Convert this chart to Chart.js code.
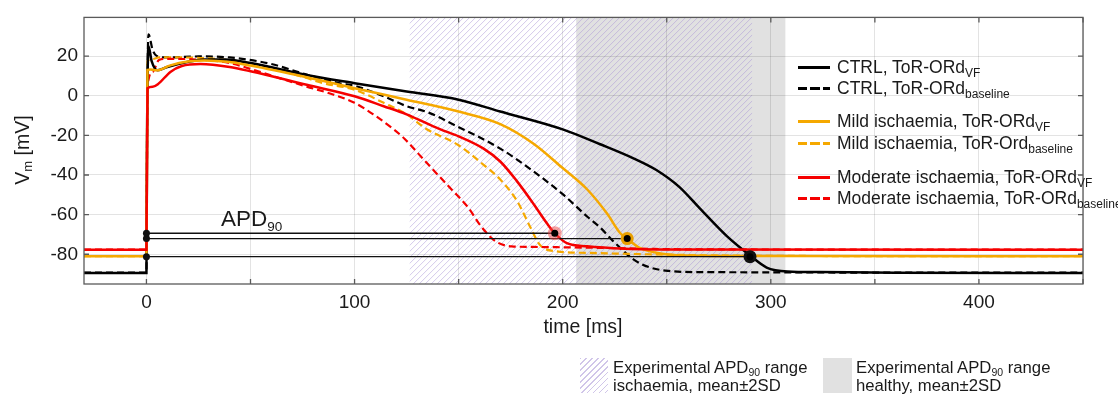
<!DOCTYPE html>
<html>
<head>
<meta charset="utf-8">
<script src="https://cdn.jsdelivr.net/npm/chart.js@4.4.1/dist/chart.umd.min.js"></script>
<style>
body{margin:0;background:#fff;font-family:"Liberation Sans",Arial,sans-serif;color:#1a1a1a}
#wrap{position:relative;width:1118px;height:399px}
#wrap canvas{position:absolute;left:0;top:0}
.txt{position:absolute;white-space:nowrap}
.row{position:absolute;left:798px;height:20px;display:flex;align-items:center;font-size:17.5px;white-space:nowrap}
.smp{display:inline-block;width:32px;height:3px;margin-right:7px;flex:none}
.row sub{font-size:12px;vertical-align:-4px;line-height:0}
.box{position:absolute;top:358px;width:28px;height:35px}
.leg2{position:absolute;top:359px;font-size:16.7px;line-height:18px;white-space:nowrap}
.leg2 sub{font-size:10.5px;vertical-align:-3px;line-height:0}
</style>
</head>
<body>
<div id="wrap">
<canvas id="chart" width="1118" height="399"></canvas>

<!-- legend, top right -->
<div class="row" style="top:57px"><span class="smp" style="background:#000"></span><span>CTRL, ToR-ORd<sub>VF</sub></span></div>
<div class="row" style="top:78px"><span class="smp" style="background:repeating-linear-gradient(90deg,#000 0 9.5px,transparent 9.5px 12.5px)"></span><span>CTRL, ToR-ORd<sub>baseline</sub></span></div>
<div class="row" style="top:111px"><span class="smp" style="background:#F5A800"></span><span>Mild ischaemia, ToR-ORd<sub>VF</sub></span></div>
<div class="row" style="top:133px"><span class="smp" style="background:repeating-linear-gradient(90deg,#F5A800 0 9.5px,transparent 9.5px 12.5px)"></span><span>Mild ischaemia, ToR-Ord<sub>baseline</sub></span></div>
<div class="row" style="top:167px"><span class="smp" style="background:#F50000"></span><span>Moderate ischaemia, ToR-ORd<sub>VF</sub></span></div>
<div class="row" style="top:188px"><span class="smp" style="background:repeating-linear-gradient(90deg,#F50000 0 9.5px,transparent 9.5px 12.5px)"></span><span>Moderate ischaemia, ToR-ORd<sub>baseline</sub></span></div>

<!-- axis titles and APD label -->
<div class="txt" style="left:483px;width:200px;top:314px;text-align:center;font-size:19.5px;line-height:24px">time [ms]</div>
<div class="txt" style="left:-38px;top:138px;width:120px;text-align:center;font-size:19.5px;line-height:24px;transform:rotate(-90deg)">V<sub style="font-size:13px;vertical-align:-3px;line-height:0">m</sub> [mV]</div>
<div class="txt" style="left:221px;top:206px;font-size:22.5px;line-height:26px">APD<sub style="font-size:13.5px;vertical-align:-5px;line-height:0">90</sub></div>

<!-- legend, bottom -->
<div class="box" style="left:580px;background:repeating-linear-gradient(135deg,rgba(170,150,215,.55) 0 1px,transparent 1px 4.2px)"></div>
<div class="leg2" style="left:613px">Experimental APD<sub>90</sub> range<br>ischaemia, mean±2SD</div>
<div class="box" style="left:823px;width:29px;background:#e1e1e1"></div>
<div class="leg2" style="left:856px">Experimental APD<sub>90</sub> range<br>healthy, mean±2SD</div>
</div>

<script>
// action potential traces (time in ms, Vm in mV)
const ctrlVfT = [-30, 0, 0.3, 1, 2.5, 5.4, 10, 19.5, 28, 38, 50, 77, 100, 125, 150, 170, 200, 218, 234, 245, 256, 266, 279, 290, 298, 308, 323, 360, 450];
const ctrlVfV = [-89.5, -89.5, -20, 25, 17.5, 12.8, 14.5, 17, 18.3, 18.2, 16.5, 10.4, 6.3, 2.1, -2, -8, -17, -24.5, -31.6, -37.5, -46, -57, -71, -80.6, -86.7, -88.7, -89, -89.3, -89.5];

const ctrlBaseT = [-30, 0, 0.3, 1, 3, 5, 10, 25, 40, 60, 77, 93, 100, 114, 125, 135, 147, 170, 186, 200, 212, 218, 224.5, 234, 242, 251, 266, 450];
const ctrlBaseV = [-89.3, -89.3, -20, 31, 23, 20, 19.3, 19.8, 19.3, 16, 10.6, 6.3, 5, -0.3, -5.3, -8.3, -14.3, -26.7, -38.2, -49.7, -61.2, -66.5, -73.6, -82.6, -86.7, -88.4, -89, -89.3];

const mildVfT = [-30, 0, 0.5, 2, 5, 11.5, 20, 28, 40, 50, 77, 100, 125, 150, 170, 186, 200, 211.7, 221.4, 227.7, 231, 237, 247, 258, 300, 450];
const mildVfV = [-81, -81, 13, 13.2, 12.8, 15.3, 17.2, 17.8, 17, 15.2, 9.3, 3.8, -2, -8, -14.3, -24.2, -36.5, -47.2, -59.6, -69.4, -72.1, -76.8, -79.6, -80.6, -80.9, -81];

const mildBaseT = [-30, 0, 0.5, 3, 6, 15, 30, 50, 75, 85, 100, 114, 125, 134.7, 150, 162, 170, 178, 184.4, 189, 197, 212, 240, 300, 450];
const mildBaseV = [-81, -81, 17.5, 18.5, 19.3, 19.3, 18.8, 16.3, 9.5, 6.3, 3, -3.6, -9.4, -16.9, -25, -34.9, -42.3, -53, -66.2, -75.2, -78.5, -79.3, -80, -80.8, -81];

const modVfT = [-30, 0, 0.5, 3, 5.5, 11.5, 17, 26, 40, 50, 77, 100, 114, 125, 141, 150, 162, 170, 178, 186, 192.5, 196.2, 202, 211.7, 230, 260, 450];
const modVfV = [-77.7, -77.7, 3.8, 4.5, 5.8, 12, 15, 16, 14.5, 12.3, 5.5, -0.3, -5.3, -9.4, -16.9, -20.5, -26.7, -33.2, -43.1, -54.6, -64.5, -69.4, -74.4, -76, -77.2, -77.6, -77.7];

const modBaseT = [-30, 0, 0.5, 3, 6, 10, 25, 40, 50, 65, 77, 90, 100, 109, 118.7, 124, 130.5, 138.5, 146.5, 154.5, 161, 168, 175.5, 186, 220, 260, 450];
const modBaseV = [-77.7, -77.7, 4.5, 12, 18, 18.6, 18.2, 16.5, 13.5, 8.5, 4.6, 0.5, -3.6, -9.4, -16.9, -21.7, -29.1, -38.2, -47.2, -56.3, -66.2, -73.6, -76, -76.3, -76.8, -77.5, -77.7];

// APD90 end points (red, orange, black)
const apdT = [196.2, 231, 290];
const apdV = [-69.4, -72.1, -81.2];

// experimental APD90 ranges (mean ± 2SD)
const ischRange = [126.5, 291];
const healthyRange = [206.5, 307];

const xTicks = [0, 50, 100, 150, 200, 250, 300, 350, 400, 450];
const yTicks = [-80, -60, -40, -20, 0, 20];

const BLACK = '#000000', ORANGE = '#F5A800', RED = '#F50000';

function pts(t, v) {
  return t.map((x, i) => ({x: x, y: v[i]}));
}

function trace(t, v, color, dashed) {
  return {
    data: pts(t, v),
    borderColor: color,
    borderWidth: dashed ? 2.2 : 2.5,
    borderDash: dashed ? [7, 4] : [],
    pointRadius: 0,
    cubicInterpolationMode: 'monotone',
    fill: false
  };
}

function apdLine(i) {
  return {
    data: [{x: 0, y: apdV[i]}, {x: apdT[i], y: apdV[i]}],
    borderColor: '#111',
    borderWidth: 1.3,
    pointRadius: [3.5, 0],
    pointBackgroundColor: '#111',
    pointBorderWidth: 0
  };
}

// shaded experimental ranges under the grid
const bands = {
  id: 'bands',
  beforeDraw(chart) {
    const {ctx, chartArea: a, scales: {x}} = chart;
    ctx.save();
    const g0 = x.getPixelForValue(healthyRange[0]), g1 = x.getPixelForValue(healthyRange[1]);
    ctx.fillStyle = '#e1e1e1';
    ctx.fillRect(g0, a.top, g1 - g0, a.bottom - a.top);
    const h0 = x.getPixelForValue(ischRange[0]), h1 = x.getPixelForValue(ischRange[1]);
    ctx.beginPath();
    ctx.rect(h0, a.top, h1 - h0, a.bottom - a.top);
    ctx.clip();
    ctx.strokeStyle = 'rgba(170,150,215,0.5)';
    ctx.lineWidth = 1;
    const hgt = a.bottom - a.top;
    ctx.beginPath();
    for (let p = h0 - hgt; p < h1; p += 6) {
      ctx.moveTo(p, a.bottom);
      ctx.lineTo(p + hgt, a.top);
    }
    ctx.stroke();
    ctx.restore();
  }
};

// box around the axes with inward tick marks
const box = {
  id: 'box',
  afterDraw(chart) {
    const {ctx, chartArea: a, scales: {x, y}} = chart;
    ctx.save();
    ctx.strokeStyle = '#5a5a5a';
    ctx.lineWidth = 1.3;
    ctx.strokeRect(a.left, a.top, a.right - a.left, a.bottom - a.top);
    ctx.beginPath();
    xTicks.forEach(t => {
      const px = x.getPixelForValue(t);
      ctx.moveTo(px, a.bottom); ctx.lineTo(px, a.bottom - 5);
      ctx.moveTo(px, a.top); ctx.lineTo(px, a.top + 5);
    });
    yTicks.forEach(v => {
      const py = y.getPixelForValue(v);
      ctx.moveTo(a.left, py); ctx.lineTo(a.left + 5, py);
      ctx.moveTo(a.right, py); ctx.lineTo(a.right - 5, py);
    });
    ctx.stroke();
    ctx.restore();
  }
};

Chart.defaults.font.family = '"Liberation Sans", Arial, sans-serif';

new Chart(document.getElementById('chart'), {
  type: 'line',
  data: {
    datasets: [
      // APD90 markers: black centre over a coloured halo
      {
        type: 'scatter',
        data: pts(apdT, apdV),
        pointRadius: 3.5,
        pointBackgroundColor: '#000',
        pointBorderWidth: 0,
        showLine: false
      },
      {
        type: 'scatter',
        data: pts(apdT, apdV),
        pointRadius: [7, 6.5, 6.5],
        pointBackgroundColor: ['rgba(240,70,70,0.5)', '#E9A000', '#111'],
        pointBorderWidth: 0,
        showLine: false
      },
      apdLine(0), apdLine(1), apdLine(2),
      trace(modVfT, modVfV, RED, false),
      trace(mildVfT, mildVfV, ORANGE, false),
      trace(ctrlVfT, ctrlVfV, BLACK, false),
      trace(modBaseT, modBaseV, RED, true),
      trace(mildBaseT, mildBaseV, ORANGE, true),
      trace(ctrlBaseT, ctrlBaseV, BLACK, true)
    ]
  },
  options: {
    responsive: false,
    animation: false,
    devicePixelRatio: 1,
    layout: {padding: {top: 13, right: 35, left: 0, bottom: 0}},
    plugins: {legend: {display: false}, tooltip: {enabled: false}},
    scales: {
      x: {
        type: 'linear',
        min: -30,
        max: 450,
        afterBuildTicks: s => { s.ticks = xTicks.map(v => ({value: v})); },
        afterFit: s => { s.height = 115; },
        grid: {color: 'rgba(0,0,0,0.11)', drawTicks: false},
        border: {display: false},
        ticks: {
          autoSkip: false,
          maxRotation: 0,
          padding: 7,
          color: '#1a1a1a',
          font: {size: 19},
          callback: v => (v % 100 === 0 ? v : '')
        }
      },
      y: {
        min: -95,
        max: 39.5,
        afterBuildTicks: s => { s.ticks = yTicks.map(v => ({value: v})); },
        afterFit: s => { s.width = 84; },
        grid: {color: 'rgba(0,0,0,0.11)', drawTicks: false},
        border: {display: false},
        ticks: {padding: 6, color: '#1a1a1a', font: {size: 19}}
      }
    }
  },
  plugins: [bands, box]
});
</script>
</body>
</html>
